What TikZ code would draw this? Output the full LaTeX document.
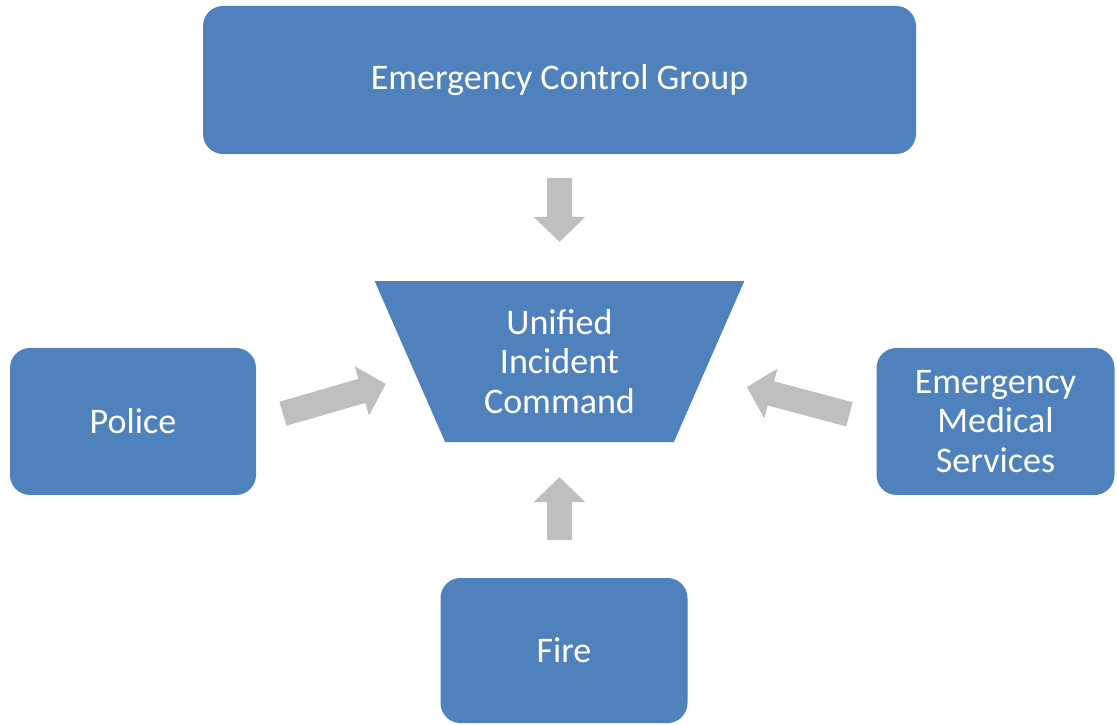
\documentclass[tikz,border=0pt]{standalone}
\usepackage{fontspec}
\setmainfont{Carlito}
\usetikzlibrary{arrows.meta, positioning, shapes.geometric}
\definecolor{boxblue}{HTML}{4F81BD}
\definecolor{arrowgray}{HTML}{BFBFBF}

\begin{document}
\begin{tikzpicture}[
  font=\fontsize{20.5}{22.5}\selectfont,
  box/.style={rectangle, rounded corners=0.4cm, fill=boxblue, text=white,
    align=center, inner sep=3pt, outer sep=0pt},
  funnel/.style={trapezium, trapezium angle=66, shape border rotate=180,
    trapezium stretches=true, fill=boxblue, text=white, align=center,
    inner sep=0pt, outer sep=0pt},
  blockarr/.style={draw=arrowgray, line width=0.5cm,
    -{Triangle[length=0.5cm, width=1.0cm]}}]
  \useasboundingbox (0,0) rectangle (22.34,14.5);
  \node[box, minimum width=14.26cm, minimum height=2.96cm] (ecg) at (11.19,12.9) {Emergency Control Group};
  \node[funnel, minimum width=7.4cm, minimum height=3.22cm, below=2.54cm of ecg] (uic) {Unified\\Incident\\Command};
  \node[box, minimum width=4.94cm, minimum height=2.9cm, below=2.72cm of uic, xshift=0.09cm] (fire) {Fire};
  \node[box, minimum width=4.92cm, minimum height=2.94cm] (police) at (2.66,6.07) {Police};
  \node[box, minimum width=4.76cm, minimum height=2.94cm] (ems) at (19.91,6.07) {Emergency\\Medical\\Services};
  \draw[blockarr, shorten <=0.48cm, shorten >=0.78cm] (ecg) -- (uic);
  \draw[blockarr, shorten <=0.76cm, shorten >=0.7cm] (uic.south |- fire.north) -- (uic.south);
  \draw[blockarr, shorten <=0.56cm, shorten >=0.5cm] (police.east) -- ([yshift=-0.31cm]uic.west);
  \draw[blockarr, shorten <=0.56cm, shorten >=0.78cm] (ems.west) -- ([yshift=-0.31cm]uic.east);
\end{tikzpicture}
\end{document}
